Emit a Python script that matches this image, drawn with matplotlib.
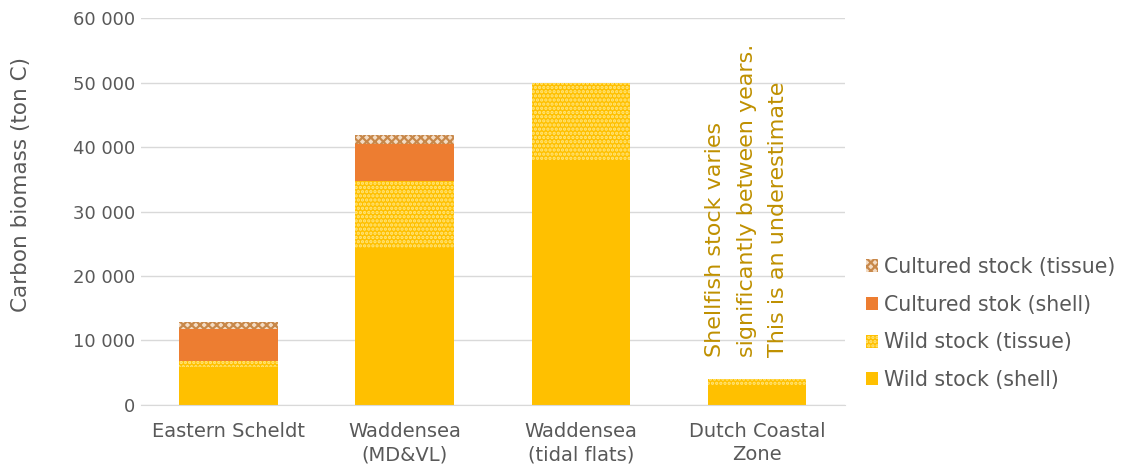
import matplotlib.pyplot as plt
import numpy as np

# Data (ton C)
categories = ["Eastern Scheldt", "Waddensea\n(MD&VL)", "Waddensea\n(tidal flats)", "Dutch Coastal\nZone"]
wild_shell = [5900, 24300, 38000, 2900]
wild_tissue = [900, 10400, 11900, 1100]
cultured_shell = [5000, 5800, 0, 0]
cultured_tissue = [1100, 1400, 0, 0]

grey = "#595959"
plt.rcParams["font.family"] = ["DejaVu Sans"]
plt.rcParams["hatch.linewidth"] = 1.6


def main():
    fig = plt.figure(figsize=(11.24, 4.67), dpi=100)
    ax = fig.add_axes([0.125, 0.133, 0.627, 0.828])

    x = np.arange(len(categories))
    w = 0.56

    b1 = ax.bar(x, wild_shell, w, color="#ffc000", linewidth=0, label="Wild stock (shell)", zorder=2)
    bottom = np.array(wild_shell)
    b2 = ax.bar(x, wild_tissue, w, bottom=bottom, facecolor="#ffc000", edgecolor="#ffe680",
                hatch="....", linewidth=0, label="Wild stock (tissue)", zorder=2)
    bottom = bottom + np.array(wild_tissue)
    b3 = ax.bar(x, cultured_shell, w, bottom=bottom, color="#ed7d31", linewidth=0,
                label="Cultured stok (shell)", zorder=2)
    bottom = bottom + np.array(cultured_shell)
    b4 = ax.bar(x, cultured_tissue, w, bottom=bottom, facecolor="#f4dcc4", edgecolor="#c8884a",
                hatch="xxxx", linewidth=0, label="Cultured stock (tissue)", zorder=2)

    ax.set_xlim(-0.5, len(categories) - 0.5)
    ax.set_ylim(0, 60000)
    ax.set_yticks(range(0, 60001, 10000))
    ax.set_yticklabels([f"{v:,}".replace(",", " ") for v in range(0, 60001, 10000)])
    ax.set_xticks(x)
    ax.set_xticklabels(categories, linespacing=1.3)
    ax.tick_params(axis="y", length=0, labelsize=13, labelcolor=grey, pad=4)
    ax.tick_params(axis="x", length=0, labelsize=14, labelcolor=grey, pad=12)
    ax.grid(axis="y", color="#d9d9d9", linewidth=1, zorder=0)
    for s in ["top", "right", "left"]:
        ax.spines[s].set_visible(False)
    ax.spines["bottom"].set_color("#d9d9d9")

    ax.set_ylabel("Carbon biomass (ton C)", fontsize=15.5, color=grey)
    ax.yaxis.set_label_coords(-0.155, 0.57)

    ax.text(2.94, 7400, "Shellfish stock varies\nsignificantly between years.\nThis is an underestimate",
            rotation=90, ha="center", va="bottom", multialignment="left", fontsize=16,
            color="#bf9000", linespacing=1.7, zorder=3)

    fig.legend(handles=[b4, b3, b2, b1], loc="center left", bbox_to_anchor=(0.754, 0.307),
               frameon=False, fontsize=14.8, labelcolor=grey, handlelength=0.6,
               handleheight=0.6, handletextpad=0.3, labelspacing=0.86)

    fig.savefig("out.png", dpi=100)


if __name__ == "__main__":
    main()
